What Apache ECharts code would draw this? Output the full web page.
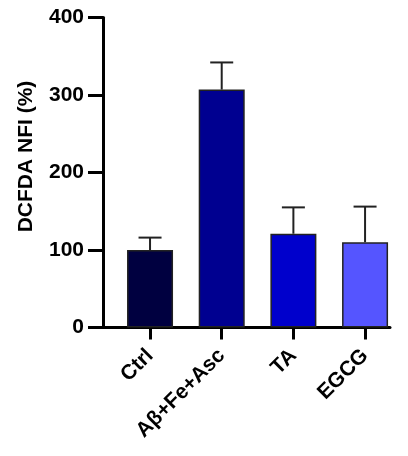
<!DOCTYPE html>
<html>
<head>
<meta charset="utf-8">
<script src="https://cdn.jsdelivr.net/npm/echarts@6/dist/echarts.min.js"></script>
<style>html,body{margin:0;padding:0;background:#fff}#c{width:408px;height:456px}</style>
</head>
<body>
<div id="c"></div>
<script>
const categories = ['Ctrl', 'Aβ+Fe+Asc', 'TA', 'EGCG'];
const means = [100, 307, 121, 110];
const sd = [16, 35, 34, 46];
const barColors = ['#000040', '#000090', '#0000CC', '#5555FF'];
const yMin = 0, yMax = 400, yStep = 100;
const yTitle = 'DCFDA NFI (%)';

const font = 'Liberation Sans, Arial, Helvetica, sans-serif';
const chart = echarts.init(document.getElementById('c'), null, {renderer: 'canvas'});

const gTop = 17.5, gBottom = 128.5;
const gLeft = 114.2, gWidth = 286.7;
const axisX = 103;

chart.setOption({
  animation: false,
  backgroundColor: '#fff',
  grid: [
    {left: gLeft, top: gTop, width: gWidth, bottom: gBottom},
    {left: 101.5, top: gTop, width: 288.5, bottom: gBottom}
  ],
  xAxis: [
    {
      type: 'category', gridIndex: 0, data: categories,
      axisLine: {show: false},
      axisTick: {show: true, alignWithLabel: true, length: 12, lineStyle: {color: '#000', width: 3}},
      axisLabel: {rotate: 45, interval: 0, margin: 25, color: '#000', fontWeight: 'bold', fontSize: 21, fontFamily: font},
      splitLine: {show: false}
    },
    {
      type: 'value', gridIndex: 1, min: 0, max: 1,
      axisLine: {show: true, onZero: false, lineStyle: {color: '#000', width: 3}},
      axisTick: {show: false}, axisLabel: {show: false}, splitLine: {show: false}
    }
  ],
  yAxis: [
    {
      type: 'value', gridIndex: 0, min: yMin, max: yMax, interval: yStep,
      offset: gLeft - axisX,
      name: yTitle, nameLocation: 'middle', nameGap: 66, nameRotate: 90,
      nameTextStyle: {color: '#000', fontWeight: 'bold', fontSize: 21, fontFamily: font, padding: [0, 0, 0, 32]},
      axisLine: {show: true, lineStyle: {color: '#000', width: 3}},
      axisTick: {show: true, length: 15, lineStyle: {color: '#000', width: 3}},
      axisLabel: {color: '#000', fontWeight: 'bold', fontSize: 21, fontFamily: font, margin: 19},
      splitLine: {show: false}
    },
    {
      type: 'value', gridIndex: 1, min: 0, max: 1, show: false
    }
  ],
  series: [
    {
      type: 'bar', xAxisIndex: 0, yAxisIndex: 0,
      barWidth: 46,
      data: means.map((v, i) => ({value: v, itemStyle: {color: barColors[i]}})),
      itemStyle: {borderColor: '#222', borderWidth: 1.5},
      z: 2
    },
    {
      type: 'custom', xAxisIndex: 0, yAxisIndex: 0,
      data: means.map((v, i) => [i, v, v + sd[i]]),
      renderItem: function (params, api) {
        const base = api.coord([api.value(0), api.value(1)]);
        const top = api.coord([api.value(0), api.value(2)]);
        const hw = 11.5;
        const st = {stroke: '#222', lineWidth: 2};
        return {
          type: 'group',
          children: [
            {type: 'line', shape: {x1: base[0], y1: base[1], x2: top[0], y2: top[1]}, style: st},
            {type: 'line', shape: {x1: top[0] - hw, y1: top[1], x2: top[0] + hw, y2: top[1]}, style: st}
          ]
        };
      },
      z: 1
    },
    {
      type: 'line', xAxisIndex: 1, yAxisIndex: 1, data: [], silent: true
    }
  ]
});
</script>
</body>
</html>
